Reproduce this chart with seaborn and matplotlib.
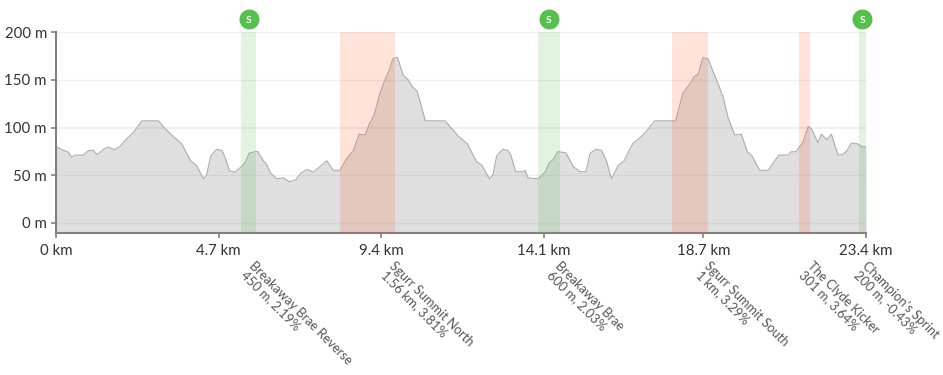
import matplotlib
matplotlib.use("Agg")
import matplotlib.pyplot as plt
import seaborn as sns
import pandas as pd

distance_km = [0, 0.21, 0.36, 0.45, 0.55, 0.79, 0.93, 1.08, 1.19, 1.37, 1.51, 1.68, 1.85, 2.04, 2.23, 2.48, 2.96, 3.15, 3.37, 3.63,
    3.89, 4.06, 4.26, 4.35, 4.47, 4.64, 4.79, 4.88, 5.01, 5.17, 5.36, 5.46, 5.58, 5.82, 5.99, 6.07, 6.20, 6.38, 6.57, 6.74,
    6.93, 7.07, 7.26, 7.43, 7.63, 7.82, 8.01, 8.20, 8.40, 8.59, 8.76, 8.93, 9.05, 9.19, 9.34, 9.50, 9.63, 9.73, 9.86, 10.03,
    10.18, 10.28, 10.44, 10.67, 11.24, 11.43, 11.62, 11.88, 12.15, 12.30, 12.52, 12.62, 12.73, 12.90, 13.05, 13.14, 13.28, 13.50, 13.55, 13.64,
    13.93, 14.13, 14.25, 14.37, 14.49, 14.73, 14.94, 15.14, 15.31, 15.43, 15.60, 15.76, 15.89, 16.05, 16.24, 16.41, 16.66, 16.96, 17.30, 17.90,
    18.11, 18.35, 18.42, 18.55, 18.69, 18.84, 19.06, 19.27, 19.41, 19.61, 19.80, 19.97, 20.09, 20.33, 20.57, 20.88, 21.15, 21.24, 21.37, 21.58,
    21.73, 21.82, 22.01, 22.11, 22.27, 22.40, 22.59, 22.74, 22.85, 22.98, 23.14, 23.29, 23.40]
elevation_m = [80, 76, 74, 69, 71, 71, 75.6, 76, 71.4, 77, 79.5, 76.7, 80, 88, 94.5, 107, 107, 99, 91, 83,
    65, 60, 46, 50, 70, 77, 76, 69, 54.5, 53, 59, 63, 73, 75, 65, 62, 52, 46, 47, 43,
    45, 52, 56, 53, 59, 65, 55, 55, 67.5, 75.6, 93, 92, 103.7, 113, 134, 150, 160.5, 172, 174, 155,
    150, 143.7, 137.7, 107, 107, 99, 91, 83, 64, 60.5, 46, 50, 70, 77, 76, 71, 53.5, 53.5, 55, 47,
    46, 53, 63, 66.5, 74.5, 73.5, 59, 53.5, 53.5, 73, 77, 76, 66, 46, 60, 65, 83, 92, 107, 107,
    136, 148, 153, 156, 173.5, 172, 152, 132.4, 111, 92, 93, 74.5, 71, 55, 55, 71, 71, 74.5, 74.5, 84.4,
    101, 99, 84, 93, 87, 93, 71, 72, 75.6, 83.7, 83, 80, 79.6]

segment_names = ["Breakaway Brae Reverse", "Sgurr Summit North", "Breakaway Brae", "Sgurr Summit South", "The Clyde Kicker", "Champion's Sprint"]
segment_info = ["450 m, 2.19%", "1.56 km, 3.81%", "600 m, 2.03%", "1 km, 3.29%", "301 m, 3.64%", "200 m, -0.43%"]
segment_start = [5.35, 8.20, 13.92, 17.81, 21.47, 23.20]
segment_end = [5.78, 9.78, 14.56, 18.84, 21.79, 23.40]
segment_kind = ["sprint", "climb", "sprint", "climb", "climb", "sprint"]
label_km = [5.76, 9.81, 14.60, 18.91, 21.89, 23.47]

sprint_km = [5.57, 14.24, 23.29]
sprint_y = [214, 214, 214]
x_ticks = [0, 4.7, 9.4, 14.1, 18.7, 23.4]
x_labels = ["0 km", "4.7 km", "9.4 km", "14.1 km", "18.7 km", "23.4 km"]
y_ticks = [0, 50, 100, 150, 200]
y_labels = ["0 m", "50 m", "100 m", "150 m", "200 m"]

sns.set_theme(style="white")
plt.rcParams["font.family"] = ["Lato", "DejaVu Sans"]

W, H = 943, 375
fig = plt.figure(figsize=(W / 100, H / 100), dpi=100)
ax = fig.add_axes([56 / W, 1 - 233 / H, 810 / W, 201 / H])

df = pd.DataFrame({"km": distance_km, "m": elevation_m})
for v, lw in zip(y_ticks, [1.0, 1.0, 1.5, 1.0, 1.5]):
    ax.axhline(v, color="#f0f0f0", lw=lw, zorder=0)
ax.fill_between(df["km"], df["m"], -11, color="#808080", alpha=0.25, lw=0, zorder=1)
sns.lineplot(data=df, x="km", y="m", color="#adadad", lw=0.8, ax=ax, zorder=2, errorbar=None)

for s, e, kind in zip(segment_start, segment_end, segment_kind):
    c = "#ff5722" if kind == "climb" else "#55c04c"
    ax.axvspan(s, e, color=c, alpha=0.17, lw=0, zorder=3)

sm = pd.DataFrame({"km": sprint_km, "y": sprint_y})
sns.scatterplot(data=sm, x="km", y="y", s=207, color="#55c04c", linewidth=0, ax=ax, clip_on=False, zorder=5)
for k, y in zip(sprint_km, sprint_y):
    ax.text(k, y, "S", color="white", fontsize=7.5, fontweight="bold", ha="center", va="center_baseline", zorder=6, clip_on=False)

ax.set_xlim(0, 23.4)
ax.set_ylim(-11, 200.5)
ax.set_xticks(x_ticks, x_labels)
ax.set_yticks(y_ticks, y_labels)
ax.set_xlabel("")
ax.set_ylabel("")
for s in ["top", "right"]:
    ax.spines[s].set_visible(False)
for s in ["left", "bottom"]:
    ax.spines[s].set_color("#808080")
    ax.spines[s].set_linewidth(1.5)
ax.tick_params(axis="both", length=3.5, width=1.2, color="#808080", labelcolor="#333333", labelsize=10.8, pad=3, bottom=True, left=True)
ax.tick_params(axis="x", pad=4.5)

for k, name, info in zip(label_km, segment_names, segment_info):
    ax.annotate(name + "\n" + info, xy=(k, 0), xycoords=("data", "axes fraction"), xytext=(0, -27), textcoords="offset pixels",
                rotation=-45, rotation_mode="anchor", ha="left", va="top", ma="left", fontsize=9.3, color="#555555", linespacing=1.0, annotation_clip=False)

fig.savefig("out.png", dpi=100)
